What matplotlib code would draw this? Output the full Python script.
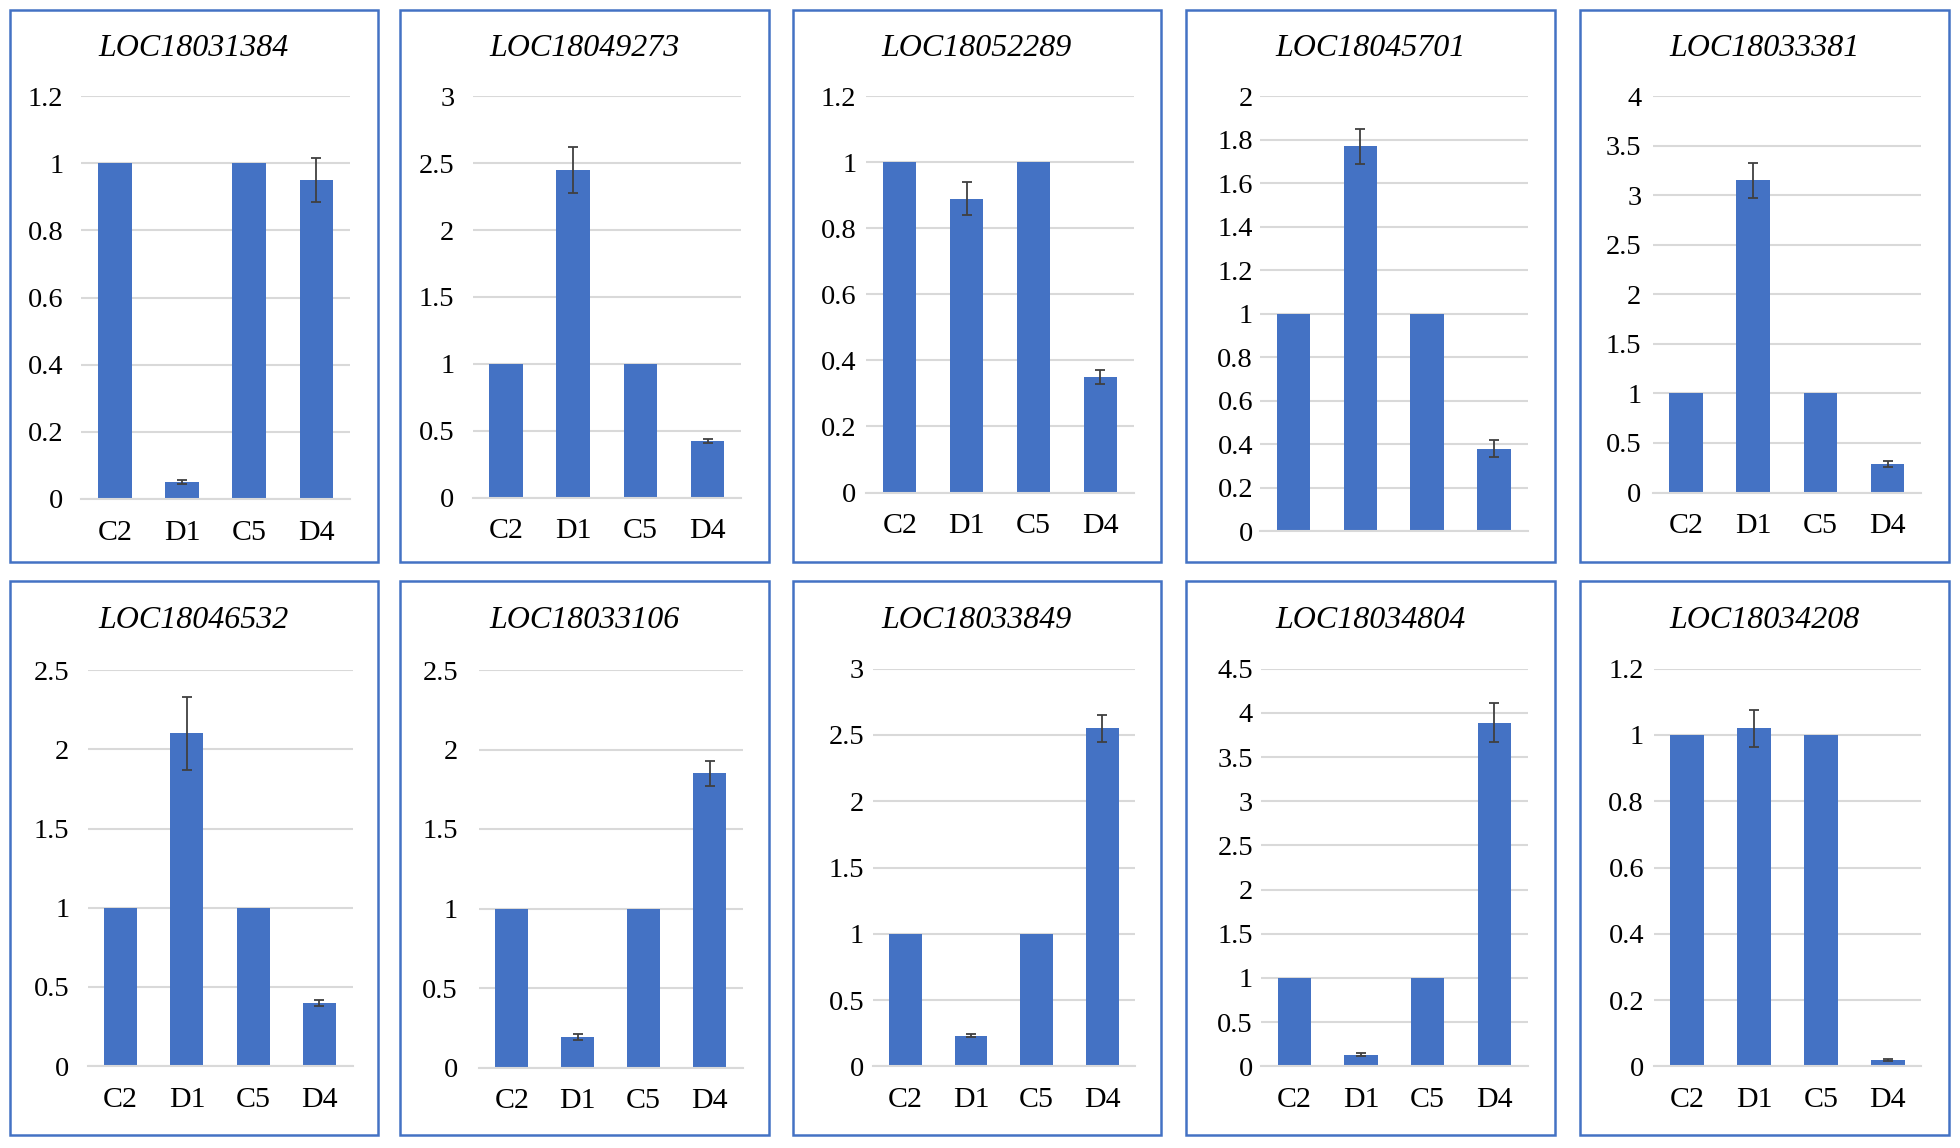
import numpy as np
import matplotlib.pyplot as plt
from matplotlib.patches import Rectangle
from matplotlib.ticker import FuncFormatter

genes = ['LOC18031384', 'LOC18049273', 'LOC18052289', 'LOC18045701', 'LOC18033381',
         'LOC18046532', 'LOC18033106', 'LOC18033849', 'LOC18034804', 'LOC18034208']
groups = ['C2', 'D1', 'C5', 'D4']
means = [
    [1, 0.05, 1, 0.95],
    [1, 2.45, 1, 0.42],
    [1, 0.89, 1, 0.35],
    [1, 1.77, 1, 0.38],
    [1, 3.15, 1, 0.29],
    [1, 2.10, 1, 0.40],
    [1, 0.19, 1, 1.85],
    [1, 0.23, 1, 2.55],
    [1, 0.13, 1, 3.89],
    [1, 1.02, 1, 0.02],
]
errors = [
    [0, 0.005, 0, 0.065],
    [0, 0.17, 0, 0.015],
    [0, 0.05, 0, 0.02],
    [0, 0.08, 0, 0.04],
    [0, 0.18, 0, 0.03],
    [0, 0.23, 0, 0.02],
    [0, 0.02, 0, 0.08],
    [0, 0.01, 0, 0.10],
    [0, 0.015, 0, 0.22],
    [0, 0.055, 0, 0.003],
]
y_top = [1.2, 3, 1.2, 2, 4, 2.5, 2.5, 3, 4.5, 1.2]
y_step = [0.2, 0.5, 0.2, 0.2, 0.5, 0.5, 0.5, 0.5, 0.5, 0.2]
show_xlabels = [True, True, True, False, True, True, True, True, True, True]

W, H = 1960, 1148
S = 1.25  # layout measured on a 1568 px wide copy

# panel boxes and plot areas (x0, y0, x1, y1), measured in the small copy
boxes = [(8, 8, 302, 450), (320, 8, 615, 450), (634, 8, 929, 450),
         (949, 8, 1244, 450), (1264, 8, 1559, 450),
         (8, 465, 302, 908), (320, 465, 615, 908), (634, 465, 929, 908),
         (949, 465, 1244, 908), (1264, 465, 1559, 908)]
areas = [(65, 77, 280, 399), (378, 77, 593, 398), (693, 77, 907, 394),
         (1008, 77, 1222, 425), (1322, 77, 1537, 394),
         (70, 536, 282, 853), (383, 536, 594, 854), (698, 535, 908, 853),
         (1009, 535, 1222, 853), (1323, 535, 1537, 853)]
ypads = [13, 13, 7, 5, 8, 13, 15, 6, 6, 7]

blue = '#4472C4'
grid = '#D9D9D9'

plt.rcParams['font.family'] = ['Liberation Serif', 'DejaVu Serif']


def frac(b):
    x0, y0, x1, y1 = [v * S for v in b]
    return [x0 / W, 1 - y1 / H, (x1 - x0) / W, (y1 - y0) / H]


fig = plt.figure(figsize=(W / 100, H / 100), dpi=100)

for i in range(len(genes)):
    bx = frac(boxes[i])
    fig.patches.append(Rectangle((bx[0], bx[1]), bx[2], bx[3], transform=fig.transFigure,
                                 fill=False, edgecolor=blue, linewidth=1.8))
    fig.text(bx[0] + bx[2] / 2, 1 - (boxes[i][1] + 31) * S / H, genes[i],
             ha='center', va='center', fontsize=23, style='italic')

    ax = fig.add_axes(frac(areas[i]))
    x = np.arange(len(groups))
    ax.bar(x, means[i], 0.5, color=blue, zorder=2)
    errs = np.array(errors[i])
    idx = errs > 0
    ax.errorbar(x[idx], np.array(means[i])[idx], yerr=errs[idx], fmt='none',
                ecolor='#404040', elinewidth=1.3, capsize=3.5, capthick=1.3, zorder=3)
    ax.set_xlim(-0.5, len(groups) - 0.5)
    ax.set_ylim(0, y_top[i])
    ax.set_yticks(np.arange(0, y_top[i] + y_step[i] / 2, y_step[i]))
    ax.yaxis.set_major_formatter(FuncFormatter(lambda v, p: f'{round(v, 2):g}'))
    ax.grid(axis='y', color=grid, linewidth=1.5, zorder=0)
    ax.set_axisbelow(True)
    for s in ['top', 'right', 'left']:
        ax.spines[s].set_visible(False)
    ax.spines['bottom'].set_color(grid)
    ax.spines['bottom'].set_linewidth(1.5)
    ax.tick_params(axis='y', length=0, labelsize=20.5, pad=ypads[i])
    ax.tick_params(axis='x', length=0, labelsize=21.5, pad=15)
    ax.set_xticks(x)
    if show_xlabels[i]:
        ax.set_xticklabels(groups)
    else:
        ax.set_xticklabels([])

fig.savefig('out.png', dpi=100)
